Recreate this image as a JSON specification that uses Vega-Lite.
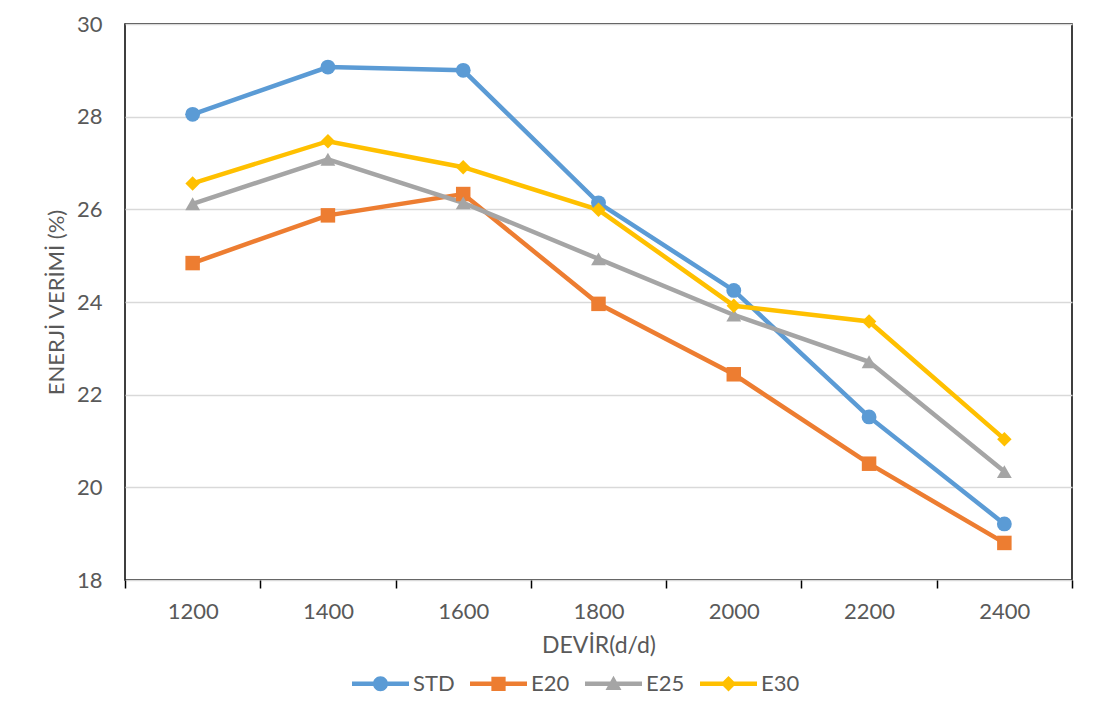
{
  "$schema": "https://vega.github.io/schema/vega-lite/v6.json",
  "width": 947,
  "height": 556,
  "autosize": {"type": "none"},
  "padding": {"left": 125, "top": 24, "right": 31, "bottom": 129},
  "background": "white",
  "config": {
    "view": {"stroke": "black", "strokeWidth": 1.5},
    "font": "Lato"
  },
  "data": {
    "values": [
      {"devir": "1200", "seri": "STD", "verim": 28.05},
      {"devir": "1400", "seri": "STD", "verim": 29.07},
      {"devir": "1600", "seri": "STD", "verim": 29.0},
      {"devir": "1800", "seri": "STD", "verim": 26.14},
      {"devir": "2000", "seri": "STD", "verim": 24.25},
      {"devir": "2200", "seri": "STD", "verim": 21.52},
      {"devir": "2400", "seri": "STD", "verim": 19.21},
      {"devir": "1200", "seri": "E20", "verim": 24.84},
      {"devir": "1400", "seri": "E20", "verim": 25.87},
      {"devir": "1600", "seri": "E20", "verim": 26.33},
      {"devir": "1800", "seri": "E20", "verim": 23.96},
      {"devir": "2000", "seri": "E20", "verim": 22.44},
      {"devir": "2200", "seri": "E20", "verim": 20.51},
      {"devir": "2400", "seri": "E20", "verim": 18.8},
      {"devir": "1200", "seri": "E25", "verim": 26.12},
      {"devir": "1400", "seri": "E25", "verim": 27.08},
      {"devir": "1600", "seri": "E25", "verim": 26.14},
      {"devir": "1800", "seri": "E25", "verim": 24.93},
      {"devir": "2000", "seri": "E25", "verim": 23.72},
      {"devir": "2200", "seri": "E25", "verim": 22.71},
      {"devir": "2400", "seri": "E25", "verim": 20.34},
      {"devir": "1200", "seri": "E30", "verim": 26.56},
      {"devir": "1400", "seri": "E30", "verim": 27.47},
      {"devir": "1600", "seri": "E30", "verim": 26.91},
      {"devir": "1800", "seri": "E30", "verim": 25.99},
      {"devir": "2000", "seri": "E30", "verim": 23.92},
      {"devir": "2200", "seri": "E30", "verim": 23.58},
      {"devir": "2400", "seri": "E30", "verim": 21.04}
    ]
  },
  "encoding": {
    "x": {
      "field": "devir",
      "type": "ordinal",
      "sort": null,
      "scale": {"type": "band", "paddingInner": 0, "paddingOuter": 0},
      "axis": {
        "title": "DEVİR(d/d)",
        "tickBand": "extent",
        "labelAngle": 0,
        "domain": false,
        "ticks": true,
        "tickColor": "black",
        "tickWidth": 1.5,
        "tickSize": 8,
        "labelPadding": 13,
        "labelFontSize": 22,
        "labelColor": "#595959",
        "titleFontSize": 23,
        "titleColor": "#595959",
        "titleFontWeight": "normal",
        "titlePadding": 12
      }
    },
    "y": {
      "field": "verim",
      "type": "quantitative",
      "scale": {"domain": [18, 30], "nice": false, "zero": false},
      "axis": {
        "title": "ENERJİ VERİMİ (%)",
        "values": [18, 20, 22, 24, 26, 28, 30],
        "grid": true,
        "gridColor": "#d9d9d9",
        "gridWidth": 1.3,
        "ticks": false,
        "domain": false,
        "labelPadding": 23,
        "labelFontSize": 22,
        "labelColor": "#595959",
        "titleFontSize": 22,
        "titleColor": "#595959",
        "titleFontWeight": "normal",
        "titlePadding": 8
      }
    },
    "color": {
      "field": "seri",
      "type": "nominal",
      "scale": {
        "domain": ["STD", "E20", "E25", "E30"],
        "range": ["#5B9BD5", "#ED7D31", "#A5A5A5", "#FFC000"]
      },
      "legend": {
        "title": null,
        "orient": "none",
        "direction": "horizontal",
        "legendX": 227,
        "legendY": 631,
        "symbolSize": 3249,
        "labelFontSize": 22,
        "labelColor": "#595959",
        "labelOffset": 4,
        "columnPadding": 15,
        "encode": {
          "symbols": {
            "update": {
              "shape": {"signal": "datum.value === 'STD' ? 'M-1,-0.079H1V0.079H-1Z M-0.263,0A0.263,0.263 0 1,1 0.263,0A0.263,0.263 0 1,1 -0.263,0Z' : datum.value === 'E20' ? 'M-1,-0.079H1V0.079H-1Z M-0.25,-0.25H0.25V0.25H-0.25Z' : datum.value === 'E25' ? 'M-1,-0.079H1V0.079H-1Z M0,-0.28L0.28,0.22H-0.28Z' : 'M-1,-0.079H1V0.079H-1Z M0,-0.27L0.27,0L0,0.27L-0.27,0Z'"},
              "fill": {"signal": "scale('color', datum.value)"},
              "stroke": {"value": "transparent"},
              "strokeWidth": {"value": 0},
              "opacity": {"value": 1}
            }
          }
        }
      }
    }
  },
  "layer": [
    {"mark": {"type": "line", "strokeWidth": 4.5}},
    {
      "transform": [{"filter": "datum.seri === 'STD'"}],
      "mark": {"type": "point", "shape": "circle", "filled": true, "opacity": 1, "size": 220}
    },
    {
      "transform": [{"filter": "datum.seri === 'E20'"}],
      "mark": {"type": "point", "shape": "square", "filled": true, "opacity": 1, "size": 210}
    },
    {
      "transform": [{"filter": "datum.seri === 'E25'"}],
      "mark": {"type": "point", "shape": "triangle-up", "filled": true, "opacity": 1, "size": 220}
    },
    {
      "transform": [{"filter": "datum.seri === 'E30'"}],
      "mark": {"type": "point", "shape": "diamond", "filled": true, "opacity": 1, "size": 210}
    }
  ]
}
